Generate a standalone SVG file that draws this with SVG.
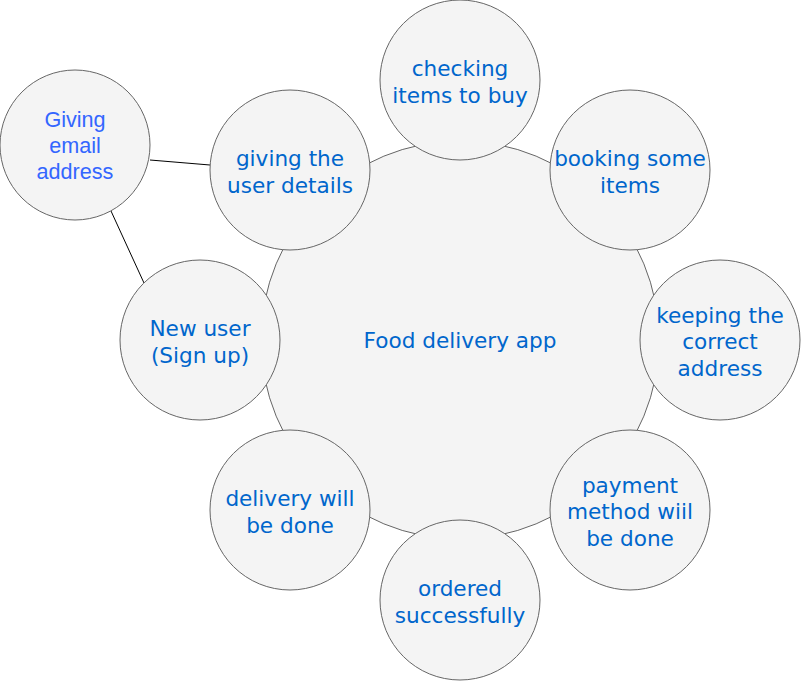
<svg xmlns="http://www.w3.org/2000/svg" width="801" height="681" viewBox="0 0 801 681">
<style>
.c{fill:#f4f4f4;stroke:#666666;stroke-width:1}
.t{font-family:"DejaVu Sans",Verdana,sans-serif;font-size:21.6px;fill:#0066cc;text-anchor:middle}
.e{font-family:"Liberation Sans",Arial,sans-serif;font-size:21.6px;fill:#3366ff;text-anchor:middle}
.l{stroke:#000000;stroke-width:1;fill:none}
</style>
<rect width="801" height="681" fill="#ffffff"/>
<g id="connectors">
<line class="l" x1="150" y1="160" x2="210" y2="165"/>
<line class="l" x1="111" y1="211" x2="144" y2="283"/>
</g>
<g id="app">
<circle class="c" cx="460" cy="340" r="199"/>
<text class="t" x="460" y="348">Food delivery app</text>
</g>
<g id="email">
<circle class="c" cx="75" cy="145" r="75"/>
<text class="e" x="75" y="127">Giving<tspan x="75" dy="26">email</tspan><tspan x="75" dy="26">address</tspan></text>
</g>
<g id="details">
<circle class="c" cx="290" cy="170" r="80"/>
<text class="t" x="290" y="166">giving the<tspan x="290" dy="27">user details</tspan></text>
</g>
<g id="checking">
<circle class="c" cx="460" cy="80" r="80"/>
<text class="t" x="460" y="75.5">checking<tspan x="460" dy="27">items to buy</tspan></text>
</g>
<g id="booking">
<circle class="c" cx="630" cy="170" r="80"/>
<text class="t" x="630" y="165.5">booking some<tspan x="630" dy="27">items</tspan></text>
</g>
<g id="keeping">
<circle class="c" cx="720" cy="340" r="80"/>
<text class="t" x="720" y="322.5">keeping the<tspan x="720" dy="26.5">correct</tspan><tspan x="720" dy="26.5">address</tspan></text>
</g>
<g id="payment">
<circle class="c" cx="630" cy="510" r="80"/>
<text class="t" x="630" y="492.5">payment<tspan x="630" dy="26.5">method wiil</tspan><tspan x="630" dy="26.5">be done</tspan></text>
</g>
<g id="ordered">
<circle class="c" cx="460" cy="600" r="80"/>
<text class="t" x="460" y="595.5">ordered<tspan x="460" dy="27">successfully</tspan></text>
</g>
<g id="delivery">
<circle class="c" cx="290" cy="510" r="80"/>
<text class="t" x="290" y="505.5">delivery will<tspan x="290" dy="27">be done</tspan></text>
</g>
<g id="newuser">
<circle class="c" cx="200" cy="340" r="80"/>
<text class="t" x="200" y="335.5">New user<tspan x="200" dy="27">(Sign up)</tspan></text>
</g>
</svg>
